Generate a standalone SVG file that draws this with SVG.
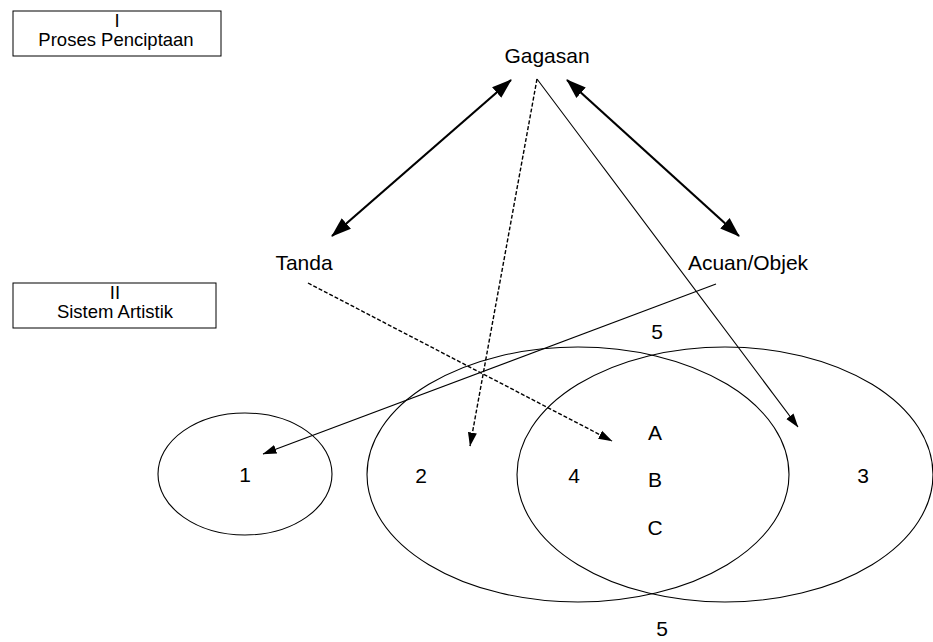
<svg xmlns="http://www.w3.org/2000/svg" width="933" height="642" viewBox="0 0 933 642">
  <style>
    text { font-family: "Liberation Sans", Arial, sans-serif; fill: #000; text-anchor: middle; }
    .lbl { font-size: 21px; }
    .box { fill: #fff; stroke: #000; stroke-width: 1; }
    .boxt { font-size: 18.5px; }
    .set { fill: none; stroke: #000; stroke-width: 1.1; }
    .thick { stroke: #000; stroke-width: 2.2; fill: none; }
    .thin { stroke: #000; stroke-width: 1.1; fill: none; }
    .dash { stroke: #000; stroke-width: 1.4; fill: none; stroke-dasharray: 4 2; }
  </style>
  <defs>
    <marker id="headBig" markerUnits="userSpaceOnUse" markerWidth="20" markerHeight="16" viewBox="0 0 20 16" refX="19" refY="8" orient="auto-start-reverse">
      <path d="M0,1 L20,8 L0,15 Z" fill="#000"/>
    </marker>
    <marker id="headSmall" markerUnits="userSpaceOnUse" markerWidth="14" markerHeight="10" viewBox="0 0 14 10" refX="13.5" refY="5" orient="auto">
      <path d="M0,0.5 L14,5 L0,9.5 Z" fill="#000"/>
    </marker>
  </defs>
  <rect width="933" height="642" fill="#fff"/>

  <!-- heading boxes -->
  <g id="box-proses">
    <rect class="box" x="13" y="11" width="208" height="45"/>
    <text class="boxt" x="117" y="27">I</text>
    <text class="boxt" x="116" y="46">Proses Penciptaan</text>
  </g>
  <g id="box-sistem">
    <rect class="box" x="13" y="283" width="203" height="45"/>
    <text class="boxt" x="115" y="299">II</text>
    <text class="boxt" x="115" y="318">Sistem Artistik</text>
  </g>

  <!-- sets -->
  <g id="set-1">
    <ellipse class="set" cx="245" cy="474" rx="87" ry="61"/>
    <text class="lbl" x="245" y="482">1</text>
  </g>
  <g id="set-2">
    <ellipse class="set" cx="578" cy="474.5" rx="211" ry="127.5"/>
    <text class="lbl" x="421" y="483">2</text>
  </g>
  <g id="set-3">
    <ellipse class="set" cx="725" cy="474.5" rx="208" ry="127.5"/>
    <text class="lbl" x="863" y="483">3</text>
  </g>
  <g id="set-4">
    <text class="lbl" x="574" y="483">4</text>
    <text class="lbl" x="655" y="440">A</text>
    <text class="lbl" x="655" y="487">B</text>
    <text class="lbl" x="655" y="535">C</text>
  </g>
  <g id="label-5-top">
    <text class="lbl" x="657" y="339">5</text>
  </g>
  <g id="label-5-bottom">
    <text class="lbl" x="662" y="636">5</text>
  </g>

  <!-- triangle nodes -->
  <g id="node-gagasan">
    <text class="lbl" x="547" y="63">Gagasan</text>
  </g>
  <g id="node-tanda">
    <text class="lbl" x="304" y="270">Tanda</text>
  </g>
  <g id="node-acuan">
    <text class="lbl" x="748" y="270">Acuan/Objek</text>
  </g>

  <!-- connectors -->
  <g id="connectors">
    <line class="thick" x1="511" y1="80" x2="332" y2="236" marker-start="url(#headBig)" marker-end="url(#headBig)"/>
    <line class="thick" x1="567" y1="80" x2="739" y2="236" marker-start="url(#headBig)" marker-end="url(#headBig)"/>
    <line class="dash" x1="537" y1="79" x2="470" y2="446" marker-end="url(#headSmall)"/>
    <line class="thin" x1="537" y1="79" x2="798" y2="427" marker-end="url(#headSmall)"/>
    <line class="dash" x1="308" y1="283" x2="612" y2="441" marker-end="url(#headSmall)"/>
    <line class="thin" x1="716" y1="284" x2="263" y2="454" marker-end="url(#headSmall)"/>
  </g>
</svg>
